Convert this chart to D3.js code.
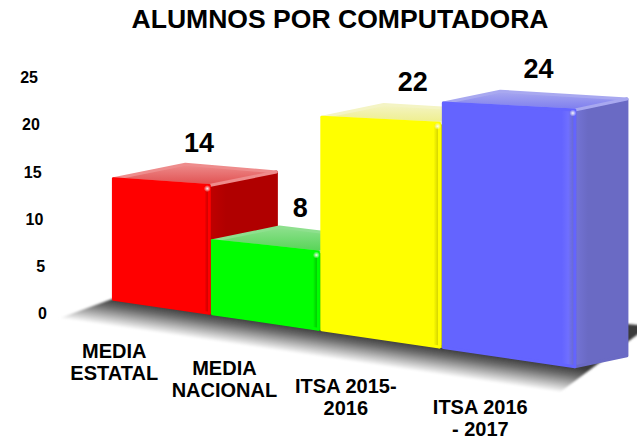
<!DOCTYPE html>
<html>
<head>
<meta charset="utf-8">
<script src="https://cdn.jsdelivr.net/npm/d3@7"></script>
<style>
  body { margin: 0; background: #fff; }
  svg text { font-family: "Liberation Sans", Arial, sans-serif; font-weight: bold; fill: #000; }
</style>
</head>
<body>
<svg id="chart" width="637" height="442"></svg>
<script>
// data
var categories = [["MEDIA", "ESTATAL"], ["MEDIA", "NACIONAL"], ["ITSA 2015-", "2016"], ["ITSA 2016", "- 2017"]];
var values = [14, 8, 22, 24];
var yTicks = [0, 5, 10, 15, 20, 25];
var title = "ALUMNOS POR COMPUTADORA";

// colours per bar: front, side, top
var frontColors = ["#ff0000", "#00ff00", "#ffff00", "#6464ff"];
var sideColors  = ["#b00000", "#00b400", "#c8c800", "#6a6ac4"];
var topColors   = ["#e04e4e", "#55d455", "#eeee8a", "#7c7cee"];
var topLight    = ["#ee8c8c", "#8ee08e", "#f4f4c4", "#a8a8f0"];

var svg = d3.select("#chart");
var defs = svg.append("defs");

// rough 3d projection: u = position along the categories (0..4), v = value, w = depth (0 front, 1 back)
var persp = -0.19;
function along(u) { return (u / 4) * (1 + persp) / (1 + persp * u / 4); }
var floorX = d3.scaleLinear().domain([0, 1]).range([112, 577]);
var floorY = d3.scaleLinear().domain([0, 1]).range([299, 367]);
var unitH  = d3.scaleLinear().domain([0, 4]).range([8.6, 10.7]);
var depthX = d3.scaleLinear().domain([0, 4]).range([72, 52]);
var depthY = d3.scaleLinear().domain([0, 4]).range([-14.5, -11]);

function P(u, v, w) {
  var a = along(u);
  return [floorX(a) + w * depthX(u), floorY(a) - v * unitH(u) + w * depthY(u)];
}
function shift(pt, dx, dy) { return [pt[0] + dx, pt[1] + dy]; }

var poly = d3.line().curve(d3.curveLinearClosed);

// floor shadow
var sh = defs.append("linearGradient").attr("id", "shadow")
    .attr("gradientUnits", "userSpaceOnUse")
    .attr("x1", 330).attr("y1", 331).attr("x2", 326).attr("y2", 358);
sh.append("stop").attr("offset", 0).attr("stop-color", "#3a3a3a");
sh.append("stop").attr("offset", 0.3).attr("stop-color", "#6a6a6a");
sh.append("stop").attr("offset", 1).attr("stop-color", "#ffffff");

var blur = defs.append("filter").attr("id", "soft").attr("x", "-20%").attr("y", "-20%").attr("width", "140%").attr("height", "140%");
blur.append("feGaussianBlur").attr("stdDeviation", 1.2);

svg.append("path")
    .attr("d", poly([shift(P(0, 0, 0), -52, 19), shift(P(4, 0, 0), -17, 25), shift(P(4, 0, 1), 20, -30), P(0, 0, 1), P(0, 0, 0)]))
    .attr("fill", "url(#shadow)")
    .attr("filter", "url(#soft)");

// gradients for each bar
values.forEach(function(v, i) {
  var gt = defs.append("linearGradient").attr("id", "top" + i).attr("x1", 0).attr("y1", 0).attr("x2", 0).attr("y2", 1);
  gt.append("stop").attr("offset", 0).attr("stop-color", topLight[i]);
  gt.append("stop").attr("offset", 1).attr("stop-color", topColors[i]);

  var gf = defs.append("linearGradient").attr("id", "front" + i).attr("x1", 0).attr("y1", 0).attr("x2", 1).attr("y2", 0);
  gf.append("stop").attr("offset", 0).attr("stop-color", frontColors[i]);
  gf.append("stop").attr("offset", 0.9).attr("stop-color", frontColors[i]);
  gf.append("stop").attr("offset", 0.95).attr("stop-color", d3.color(frontColors[i]).brighter(0.3));
  gf.append("stop").attr("offset", 1).attr("stop-color", sideColors[i]);

  var gs = defs.append("linearGradient").attr("id", "side" + i).attr("x1", 0).attr("y1", 0).attr("x2", 1).attr("y2", 0);
  gs.append("stop").attr("offset", 0).attr("stop-color", d3.color(sideColors[i]).brighter(0.25));
  gs.append("stop").attr("offset", 0.25).attr("stop-color", sideColors[i]);
  gs.append("stop").attr("offset", 1).attr("stop-color", sideColors[i]);
});

var spec = defs.append("radialGradient").attr("id", "spec");
spec.append("stop").attr("offset", 0).attr("stop-color", "#fff").attr("stop-opacity", 0.95);
spec.append("stop").attr("offset", 1).attr("stop-color", "#fff").attr("stop-opacity", 0);

// bars, left to right so each one covers the back of the previous
var bars = svg.selectAll(".bar")
    .data(values)
    .enter().append("g")
    .attr("class", "bar");

bars.each(function(v, i) {
  var g = d3.select(this);
  var u0 = i + 0.015, u1 = i + 0.985;

  g.append("path")
      .attr("d", poly([P(u1, 0, 0), P(u1, 0, 1), P(u1, v, 1), P(u1, v, 0)]))
      .attr("fill", "url(#side" + i + ")")
      .attr("stroke", sideColors[i]).attr("stroke-width", 3).attr("stroke-linejoin", "round");

  g.append("path")
      .attr("d", poly([P(u0, v, 0), P(u1, v, 0), P(u1, v, 1), P(u0, v, 1)]))
      .attr("fill", "url(#top" + i + ")")
      .attr("stroke", topLight[i]).attr("stroke-width", 3).attr("stroke-linejoin", "round");

  g.append("path")
      .attr("d", poly([P(u0, 0, 0), P(u1, 0, 0), P(u1, v, 0), P(u0, v, 0)]))
      .attr("fill", "url(#front" + i + ")")
      .attr("stroke", frontColors[i]).attr("stroke-width", 3).attr("stroke-linejoin", "round");

  var c = shift(P(u1, v, 0), -2, 3);
  g.append("circle")
      .attr("cx", c[0]).attr("cy", c[1]).attr("r", 3.5)
      .attr("fill", "url(#spec)");
});

// value labels
svg.selectAll(".value")
    .data(values)
    .enter().append("text")
    .attr("class", "value")
    .attr("x", function(d, i) { return P(i + 0.5, d, 0.5)[0] + 4; })
    .attr("y", function(d, i) { return P(i + 0.5, d, 0.5)[1] - 23; })
    .attr("text-anchor", "middle")
    .attr("font-size", 27)
    .text(function(d) { return d; });

// y axis labels (axis drawn on the slanted back wall)
var yTick = d3.scaleLinear().domain([0, 25]).range([313, 77]);
var tickX = d3.scaleLinear().domain([0, 25]).range([47, 38]);
var gy = svg.append("g")
    .call(d3.axisLeft(yTick).tickValues(yTicks).tickSize(0));
gy.select(".domain").remove();
gy.attr("font-family", null).attr("font-size", 16);
gy.selectAll(".tick text")
    .attr("x", function(d) { return tickX(d); })
    .attr("dy", "0.35em")
    .attr("fill", "#000");

// category labels
var labelDx = d3.scaleLinear().domain([0, 3]).range([-46, -27]);
var labelDy = d3.scaleLinear().domain([0, 3]).range([52, 57]);
var cats = svg.selectAll(".cat")
    .data(categories)
    .enter().append("text")
    .attr("class", "cat")
    .attr("text-anchor", "middle")
    .attr("font-size", 20)
    .attr("transform", function(d, i) {
      var p = P(i + 0.5, 0, 0);
      return "translate(" + (p[0] + labelDx(i)) + "," + (p[1] + labelDy(i)) + ")";
    });
cats.selectAll("tspan")
    .data(function(d) { return d; })
    .enter().append("tspan")
    .attr("x", 0)
    .attr("y", function(d, j) { return j * 22; })
    .text(function(d) { return d; });

// title
svg.append("text")
    .attr("x", 340)
    .attr("y", 28)
    .attr("text-anchor", "middle")
    .attr("font-size", 26)
    .attr("textLength", 417)
    .attr("lengthAdjust", "spacingAndGlyphs")
    .text(title);
</script>
</body>
</html>
